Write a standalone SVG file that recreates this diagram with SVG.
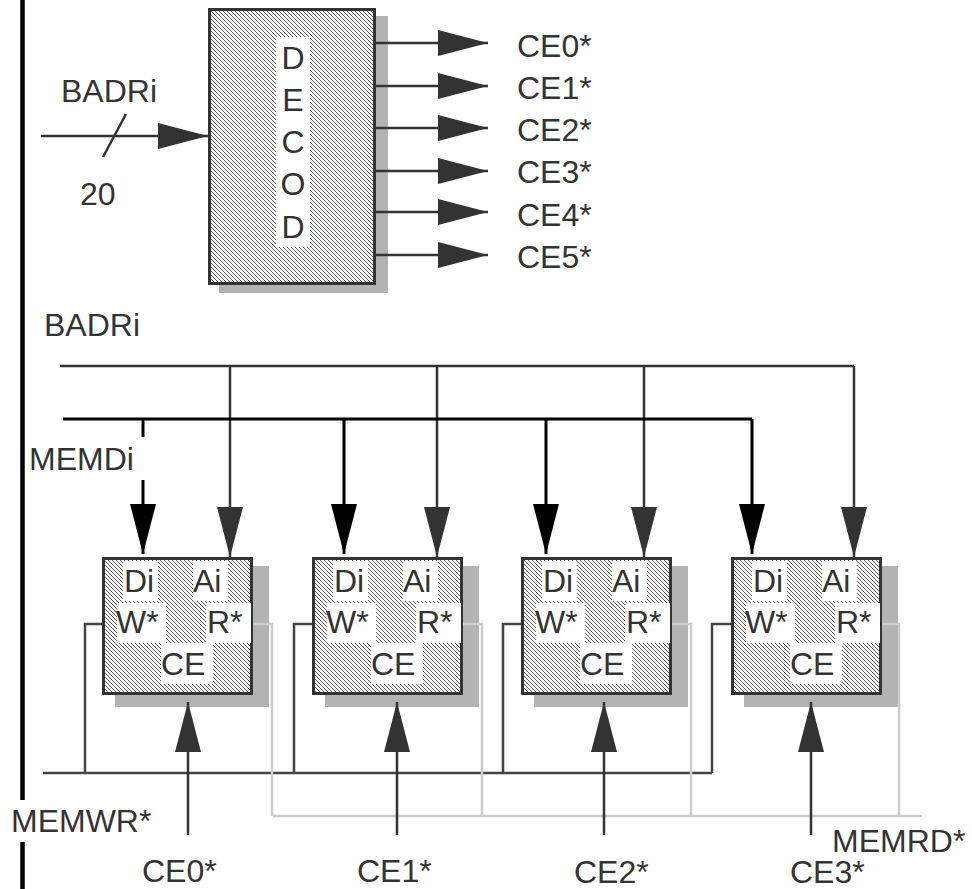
<svg xmlns="http://www.w3.org/2000/svg" width="972" height="889" viewBox="0 0 972 889">
<style>
text{font-family:"Liberation Sans",Arial,sans-serif;font-size:32px;fill:#333}
.ln{stroke:#333;stroke-width:2.5;fill:none}
.blk{stroke:#000;stroke-width:3;fill:none}
.rd{stroke:#ccc;stroke-width:2.5;fill:none}
.wr{stroke:#444;stroke-width:2.5;fill:none}
.box{fill:url(#hatch);stroke:#333;stroke-width:3}
.shadow{fill:#b3b3b3}
.lbl{fill:#fff}
</style>
<defs>
<pattern id="hatch" patternUnits="userSpaceOnUse" width="4" height="4">
<rect width="4" height="4" fill="#fff"/>
<path d="M-1,-1 L5,5 M-1,3 L1,5 M3,-1 L5,1" stroke="#555" stroke-width="1"/>
</pattern>
<marker id="ag" markerUnits="userSpaceOnUse" viewBox="0 0 50 26" refX="50" refY="13" markerWidth="50" markerHeight="26" orient="auto">
<path d="M0,0 L50,13 L0,26 z" fill="#333"/>
</marker>
<marker id="ab" markerUnits="userSpaceOnUse" viewBox="0 0 50 26" refX="50" refY="13" markerWidth="50" markerHeight="26" orient="auto">
<path d="M0,0 L50,13 L0,26 z" fill="#000"/>
</marker>
</defs>
<rect width="972" height="889" fill="#fff"/>

<g id="decoder">
<rect class="shadow" x="219" y="16" width="169" height="277"/>
<rect class="box" x="209.5" y="9.5" width="165" height="274"/>
<rect class="lbl" x="276" y="37" width="34" height="210"/>
<g text-anchor="middle">
<text x="293" y="69">D</text>
<text x="293" y="111">E</text>
<text x="293" y="153">C</text>
<text x="293" y="195">O</text>
<text x="293" y="238">D</text>
</g>
</g>

<g id="memories">
<g id="mem0">
<rect class="shadow" x="115" y="566" width="154" height="141"/>
<rect class="box" x="103.5" y="558.5" width="148" height="135"/>
<rect class="lbl" x="123" y="561" width="35" height="40"/>
<rect class="lbl" x="193" y="561" width="35" height="40"/>
<rect class="lbl" x="117" y="603" width="49" height="40"/>
<rect class="lbl" x="206" y="603" width="45" height="40"/>
<rect class="lbl" x="161" y="643" width="52" height="41"/>
<text x="124" y="592">Di</text><text x="193" y="592">Ai</text>
<text x="116" y="633">W*</text><text x="207" y="633">R*</text>
<text x="161" y="675">CE</text>
</g>
<g id="mem1">
<rect class="shadow" x="325" y="566" width="154" height="141"/>
<rect class="box" x="313.5" y="558.5" width="148" height="135"/>
<rect class="lbl" x="333" y="561" width="35" height="40"/>
<rect class="lbl" x="403" y="561" width="35" height="40"/>
<rect class="lbl" x="327" y="603" width="49" height="40"/>
<rect class="lbl" x="416" y="603" width="45" height="40"/>
<rect class="lbl" x="371" y="643" width="52" height="41"/>
<text x="334" y="592">Di</text><text x="403" y="592">Ai</text>
<text x="326" y="633">W*</text><text x="417" y="633">R*</text>
<text x="371" y="675">CE</text>
</g>
<g id="mem2">
<rect class="shadow" x="534" y="566" width="154" height="141"/>
<rect class="box" x="522.5" y="558.5" width="148" height="135"/>
<rect class="lbl" x="542" y="561" width="35" height="40"/>
<rect class="lbl" x="612" y="561" width="35" height="40"/>
<rect class="lbl" x="536" y="603" width="49" height="40"/>
<rect class="lbl" x="625" y="603" width="45" height="40"/>
<rect class="lbl" x="580" y="643" width="52" height="41"/>
<text x="543" y="592">Di</text><text x="612" y="592">Ai</text>
<text x="535" y="633">W*</text><text x="626" y="633">R*</text>
<text x="580" y="675">CE</text>
</g>
<g id="mem3">
<rect class="shadow" x="744" y="566" width="154" height="141"/>
<rect class="box" x="732.5" y="558.5" width="148" height="135"/>
<rect class="lbl" x="752" y="561" width="35" height="40"/>
<rect class="lbl" x="822" y="561" width="35" height="40"/>
<rect class="lbl" x="746" y="603" width="49" height="40"/>
<rect class="lbl" x="835" y="603" width="45" height="40"/>
<rect class="lbl" x="790" y="643" width="52" height="41"/>
<text x="753" y="592">Di</text><text x="822" y="592">Ai</text>
<text x="745" y="633">W*</text><text x="836" y="633">R*</text>
<text x="790" y="675">CE</text>
</g>
</g>

<g id="connectors">
<path d="M22.5,0 V800 M22.5,842 V889" stroke="#000" stroke-width="4.5"/>
<line class="ln" x1="41" y1="136" x2="208" y2="136" marker-end="url(#ag)"/>
<line class="ln" x1="103" y1="157" x2="126" y2="114"/>
<g class="ln">
<line x1="376" y1="43" x2="488" y2="43" marker-end="url(#ag)"/>
<line x1="376" y1="86" x2="488" y2="86" marker-end="url(#ag)"/>
<line x1="376" y1="128" x2="488" y2="128" marker-end="url(#ag)"/>
<line x1="376" y1="171" x2="488" y2="171" marker-end="url(#ag)"/>
<line x1="376" y1="212" x2="488" y2="212" marker-end="url(#ag)"/>
<line x1="376" y1="255" x2="488" y2="255" marker-end="url(#ag)"/>
</g>
<path class="ln" d="M60,366 H854"/>
<g class="ln">
<line x1="230" y1="366" x2="230" y2="557" marker-end="url(#ag)"/>
<line x1="437" y1="366" x2="437" y2="557" marker-end="url(#ag)"/>
<line x1="644" y1="366" x2="644" y2="557" marker-end="url(#ag)"/>
<line x1="854" y1="366" x2="854" y2="557" marker-end="url(#ag)"/>
</g>
<path class="blk" d="M63,419 H752"/>
<g class="blk">
<line x1="143" y1="419" x2="143" y2="437"/>
<line x1="143" y1="480" x2="143" y2="554" marker-end="url(#ab)"/>
<line x1="344" y1="419" x2="344" y2="554" marker-end="url(#ab)"/>
<line x1="546" y1="419" x2="546" y2="554" marker-end="url(#ab)"/>
<line x1="752" y1="419" x2="752" y2="554" marker-end="url(#ab)"/>
</g>
<g class="wr">
<path d="M43,773 H712"/>
<path d="M102,624 H85 V773"/>
<path d="M312,624 H294 V773"/>
<path d="M521,624 H503 V773"/>
<path d="M731,624 H712 V773"/>
</g>
<g class="rd">
<path d="M273,816 H922"/>
<path d="M253,624 H272 V816"/>
<path d="M463,624 H482 V816"/>
<path d="M672,624 H691 V816"/>
<path d="M882,624 H899 V816"/>
</g>
<g class="ln">
<line x1="188" y1="835" x2="188" y2="702" marker-end="url(#ag)"/>
<line x1="397" y1="835" x2="397" y2="702" marker-end="url(#ag)"/>
<line x1="604" y1="835" x2="604" y2="702" marker-end="url(#ag)"/>
<line x1="811" y1="835" x2="811" y2="702" marker-end="url(#ag)"/>
</g>
</g>

<g id="labels">
<text x="61" y="102">BADRi</text>
<text x="80" y="205">20</text>
<text x="517" y="57">CE0*</text>
<text x="517" y="99">CE1*</text>
<text x="517" y="141">CE2*</text>
<text x="517" y="183">CE3*</text>
<text x="517" y="226">CE4*</text>
<text x="517" y="268">CE5*</text>
<text x="44" y="336">BADRi</text>
<text x="29" y="470">MEMDi</text>
<text x="11" y="832">MEMWR*</text>
<text x="832" y="852">MEMRD*</text>
<text x="142" y="882">CE0*</text>
<text x="357" y="882">CE1*</text>
<text x="574" y="883">CE2*</text>
<text x="790" y="883">CE3*</text>
</g>
</svg>
